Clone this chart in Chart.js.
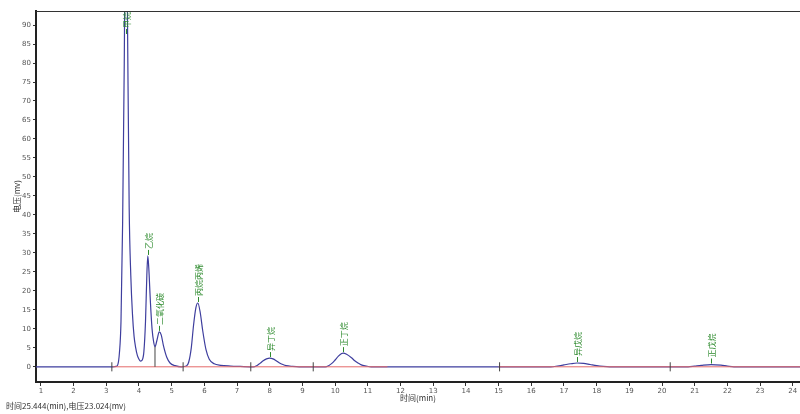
<!DOCTYPE html>
<html>
<head>
<meta charset="utf-8">
<script src="https://cdn.jsdelivr.net/npm/chart.js@4.4.1/dist/chart.umd.min.js"></script>
<style>
  html, body { margin: 0; padding: 0; background: #fff; overflow: hidden; }
  #wrap { position: relative; width: 800px; height: 414px; }
</style>
</head>
<body>
<div id="wrap"><canvas id="chromChart" width="800" height="414"></canvas></div>
<script>
// signal (time in min, voltage in mv)
const times = [0.85, 3.2, 3.3, 3.35, 3.4, 3.45, 3.5, 3.55, 3.6, 3.65, 3.7, 3.75, 3.8, 3.85, 3.9, 3.95, 4.0, 4.05, 4.1,
  4.15, 4.2, 4.24, 4.27, 4.3, 4.35, 4.4, 4.45, 4.49, 4.55, 4.62, 4.68, 4.75, 4.85, 4.95, 5.1, 5.3,
  5.45, 5.52, 5.6, 5.67, 5.74, 5.8, 5.87, 5.95, 6.05, 6.15, 6.3, 6.5, 6.8, 7.1, 7.5,
  7.6, 7.7, 7.8, 7.9, 8.0, 8.1, 8.2, 8.3, 8.4, 8.5, 8.7, 8.9,
  9.7, 9.8, 9.9, 10.0, 10.1, 10.2, 10.25, 10.35, 10.5, 10.6, 10.7, 10.8, 10.95, 11.1,
  16.6, 16.8, 17.0, 17.2, 17.4, 17.6, 17.8, 18.0, 18.2, 18.4,
  20.8, 21.0, 21.2, 21.5, 21.8, 22.0, 22.2, 24.22]
const volts = [0, 0, 0.1, 0.5, 3.5, 12, 38, 80, 140, 90, 42, 24, 14, 8, 5, 3, 2, 1.5, 1.8,
  4, 12, 24, 29.2, 26, 17, 10, 6.5, 5.3, 7, 9.2, 8.4, 5.5, 2.5, 1, 0.3, 0,
  0.2, 1.2, 5, 11, 15.5, 16.8, 14.5, 9.5, 4.5, 2, 0.8, 0.4, 0.2, 0.1, 0,
  0.3, 0.9, 1.6, 2.1, 2.3, 2.1, 1.6, 1.0, 0.6, 0.3, 0.1, 0,
  0, 0.3, 0.9, 1.8, 2.8, 3.5, 3.6, 3.3, 2.4, 1.6, 1.0, 0.5, 0.2, 0,
  0, 0.2, 0.5, 0.8, 1.0, 0.9, 0.6, 0.3, 0.1, 0,
  0, 0.2, 0.4, 0.6, 0.45, 0.2, 0, 0]

// peak annotations
const peakNames = ['甲烷', '乙烷', '二氧化碳', '丙烷丙烯', '异丁烷', '正丁烷', '异戊烷', '正戊烷']
const peakTimes = [3.6, 4.27, 4.62, 5.8, 8.0, 10.25, 17.4, 21.5]
const peakHeights = [140, 29.2, 9.2, 16.8, 2.3, 3.6, 1.0, 0.6]

// integration baselines and peak markers
const baseStart = [3.2, 15.0]
const baseEnd = [11.6, 24.22]
const markTimes = [3.17, 5.35, 7.42, 9.33, 15.03, 20.25]
const dropTime = 4.49
const dropHeight = 5.3

const xTicks = [1, 2, 3, 4, 5, 6, 7, 8, 9, 10, 11, 12, 13, 14, 15, 16, 17, 18, 19, 20, 21, 22, 23, 24]
const yTicks = [0, 5, 10, 15, 20, 25, 30, 35, 40, 45, 50, 55, 60, 65, 70, 75, 80, 85, 90]

const cjk = '"Noto Sans CJK SC", "DejaVu Sans", sans-serif'

const signal = times.map((t, i) => ({ x: t, y: volts[i] }))

const baseline = []
baseStart.forEach((s, i) => {
  baseline.push({ x: s, y: 0 }, { x: baseEnd[i], y: 0 }, { x: baseEnd[i], y: null })
})

const marks = []
markTimes.forEach((t) => {
  marks.push({ x: t, y: -1.2 }, { x: t, y: 1.2 }, { x: t, y: null })
})
marks.push({ x: dropTime, y: 0 }, { x: dropTime, y: dropHeight })

const peakLabels = {
  id: 'peakLabels',
  afterDatasetsDraw(chart) {
    const { ctx, chartArea, scales } = chart
    ctx.save()
    ctx.font = '8px ' + cjk
    ctx.fillStyle = '#2e8b2e'
    ctx.strokeStyle = '#2e8b2e'
    ctx.lineWidth = 1
    peakNames.forEach((name, i) => {
      const x = Math.round(scales.x.getPixelForValue(peakTimes[i])) + 0.5
      const w = ctx.measureText(name).width
      let y = scales.y.getPixelForValue(peakHeights[i])
      y = Math.max(y, chartArea.top + w + 8)
      ctx.beginPath()
      ctx.moveTo(x, y - 1)
      ctx.lineTo(x, y - 6)
      ctx.stroke()
      ctx.save()
      ctx.translate(x + 3, y - 7)
      ctx.rotate(-Math.PI / 2)
      ctx.textAlign = 'left'
      ctx.textBaseline = 'alphabetic'
      ctx.fillText(name, 0, 0)
      ctx.restore()
    })
    ctx.restore()
  },
  afterDraw(chart) {
    const { ctx, chartArea } = chart
    ctx.save()
    ctx.strokeStyle = '#333'
    ctx.lineWidth = 1
    ctx.beginPath()
    ctx.moveTo(chartArea.left, chartArea.top + 0.5)
    ctx.lineTo(chartArea.right, chartArea.top + 0.5)
    ctx.stroke()
    ctx.font = '8px ' + cjk
    ctx.fillStyle = '#333'
    ctx.textBaseline = 'alphabetic'
    ctx.fillText('时间25.444(min),电压23.024(mv)', 6, 409)
    ctx.restore()
  },
}

new Chart(document.getElementById('chromChart'), {
  type: 'line',
  data: {
    datasets: [
      {
        data: marks,
        borderColor: '#444',
        borderWidth: 1,
        pointRadius: 0,
        spanGaps: false,
        order: 0,
      },
      {
        data: baseline,
        borderColor: '#e46a6a',
        borderWidth: 1,
        pointRadius: 0,
        spanGaps: false,
        order: 1,
      },
      {
        data: signal,
        borderColor: '#3e3e9e',
        borderWidth: 1.2,
        pointRadius: 0,
        tension: 0.35,
        cubicInterpolationMode: 'monotone',
        order: 2,
      },
    ],
  },
  options: {
    responsive: false,
    animation: false,
    events: [],
    layout: { padding: { top: 11, right: 0, left: 0, bottom: 0 } },
    plugins: { legend: { display: false }, tooltip: { enabled: false } },
    scales: {
      x: {
        type: 'linear',
        min: 0.85,
        max: 24.22,
        afterBuildTicks: (s) => { s.ticks = xTicks.map((v) => ({ value: v })) },
        afterFit: (s) => { s.height = 32 },
        ticks: { autoSkip: false, maxRotation: 0, padding: 1, color: '#555', font: { size: 7, family: 'DejaVu Sans' } },
        grid: { drawOnChartArea: false, tickLength: 4, color: '#333' },
        border: { color: '#222', width: 2 },
        title: { display: true, text: '时间(min)', color: '#333', font: { size: 8, family: cjk }, padding: { top: 0, bottom: 11 } },
      },
      y: {
        min: -4,
        max: 93.7,
        afterBuildTicks: (s) => { s.ticks = yTicks.map((v) => ({ value: v })) },
        afterFit: (s) => { s.width = 36 },
        ticks: { autoSkip: false, padding: 2, color: '#555', font: { size: 7, family: 'DejaVu Sans' } },
        grid: { drawOnChartArea: false, tickLength: 3, color: '#333' },
        border: { color: '#222', width: 2 },
        title: { display: true, text: '电压(mv)', color: '#333', font: { size: 8, family: cjk }, padding: { top: 12, bottom: 2 } },
      },
    },
  },
  plugins: [peakLabels],
})
</script>
</body>
</html>
